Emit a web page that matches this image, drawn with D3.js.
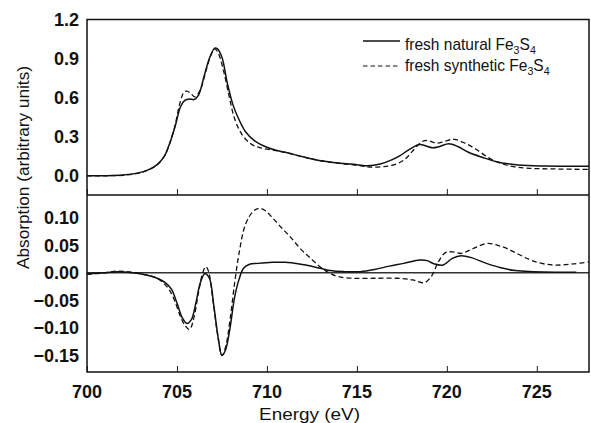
<!DOCTYPE html>
<html>
<head>
<meta charset="utf-8">
<script src="https://cdn.jsdelivr.net/npm/d3@7"></script>
<style>
  body { margin: 0; background: #fff; }
  svg text { font-family: Arial, "Liberation Sans", sans-serif; fill: #111; }
</style>
</head>
<body>
<div class="chart-container"></div>
<script>
// top panel: absorption spectra
const natE = [700, 701, 702, 702.8, 703.4, 703.9, 704.3, 704.6, 704.9, 705.2, 705.45, 705.7, 705.95, 706.2, 706.5, 706.8, 707.1, 707.25, 707.5, 707.8, 708.1, 708.4, 708.8, 709.3, 709.8, 710.5, 711, 712, 713, 714, 715, 715.6, 716.3, 716.9, 717.4, 717.9, 718.5, 719.2, 719.6, 720.1, 720.6, 721.2, 722, 722.7, 723.5, 724.5, 725.5, 727, 728];
const natAbs = [0, 0, 0.005, 0.02, 0.045, 0.085, 0.15, 0.25, 0.38, 0.53, 0.58, 0.59, 0.585, 0.62, 0.76, 0.9, 0.98, 0.975, 0.91, 0.71, 0.55, 0.445, 0.34, 0.27, 0.23, 0.195, 0.18, 0.145, 0.115, 0.097, 0.085, 0.076, 0.09, 0.12, 0.155, 0.2, 0.24, 0.215, 0.225, 0.245, 0.225, 0.18, 0.14, 0.11, 0.09, 0.078, 0.075, 0.073, 0.073];

const synE = [700, 701, 702, 702.8, 703.4, 703.9, 704.3, 704.6, 704.9, 705.15, 705.4, 705.55, 705.75, 706, 706.3, 706.6, 706.9, 707.1, 707.3, 707.6, 707.9, 708.2, 708.6, 709.1, 709.6, 710.2, 711, 712, 713, 714, 715, 715.7, 716.5, 717.2, 717.7, 718.1, 718.6, 718.9, 719.4, 719.9, 720.4, 721, 721.6, 722.3, 722.9, 723.7, 724.6, 726, 728];
const synAbs = [0, 0, 0.003, 0.018, 0.043, 0.085, 0.15, 0.25, 0.39, 0.55, 0.645, 0.65, 0.635, 0.605, 0.66, 0.8, 0.93, 0.975, 0.94, 0.8, 0.61, 0.44, 0.32, 0.245, 0.215, 0.2, 0.18, 0.145, 0.115, 0.095, 0.08, 0.067, 0.07, 0.09, 0.13, 0.19, 0.26, 0.272, 0.25, 0.265, 0.28, 0.25, 0.205, 0.14, 0.1, 0.07, 0.057, 0.052, 0.048];

// bottom panel: difference curves
const natDiffE = [700, 701, 701.7, 702.5, 703.3, 703.9, 704.35, 704.7, 705, 705.3, 705.55, 705.8, 706.05, 706.3, 706.55, 706.8, 707.05, 707.3, 707.5, 707.7, 707.95, 708.2, 708.45, 708.7, 709, 709.5, 710.3, 711, 711.8, 712.6, 713.5, 714.3, 715.2, 716, 716.8, 717.6, 718.5, 718.9, 719.3, 719.8, 720.3, 720.8, 721.4, 722.2, 723, 723.8, 724.8, 726, 727.2];
const natDiff = [-0.002, 0, 0.002, 0, -0.004, -0.01, -0.018, -0.03, -0.055, -0.082, -0.092, -0.085, -0.055, -0.018, -0.002, -0.01, -0.06, -0.12, -0.15, -0.14, -0.1, -0.045, -0.012, 0.008, 0.015, 0.017, 0.019, 0.019, 0.016, 0.011, 0.004, 0.002, 0.002, 0.006, 0.012, 0.017, 0.023, 0.022, 0.016, 0.014, 0.026, 0.031, 0.027, 0.017, 0.009, 0.004, 0.002, 0.001, 0.001];

const synDiffE = [700, 701, 701.7, 702.5, 703.3, 703.9, 704.35, 704.65, 704.9, 705.2, 705.45, 705.7, 705.95, 706.2, 706.45, 706.6, 706.75, 707, 707.25, 707.5, 707.7, 707.95, 708.2, 708.45, 708.8, 709.2, 709.55, 709.9, 710.3, 710.8, 711.3, 711.85, 712.4, 712.95, 713.5, 713.95, 714.8, 716, 717.2, 718.1, 718.75, 719.15, 719.5, 719.9, 720.3, 720.8, 721.4, 722.2, 722.8, 723.4, 724.2, 724.9, 725.9, 727, 728];
const synDiff = [-0.003, 0, 0.003, 0.001, -0.004, -0.01, -0.022, -0.035, -0.053, -0.08, -0.096, -0.103, -0.08, -0.035, 0.002, 0.011, 0.003, -0.05, -0.11, -0.15, -0.135, -0.085, -0.02, 0.035, 0.087, 0.11, 0.117, 0.113, 0.1, 0.082, 0.065, 0.044, 0.027, 0.011, -0.001, -0.007, -0.01, -0.01, -0.01, -0.013, -0.018, -0.006, 0.018, 0.036, 0.038, 0.035, 0.043, 0.053, 0.05, 0.043, 0.03, 0.02, 0.014, 0.016, 0.02];

const xTicks = [700, 705, 710, 715, 720, 725];
const topTicks = [0.0, 0.3, 0.6, 0.9, 1.2];
const bottomTicks = [-0.15, -0.10, -0.05, 0.00, 0.05, 0.10];
const legendLabels = ['fresh natural Fe', 'fresh synthetic Fe'];

const W = 591, H = 423;
const box = { left: 87, right: 589, top: 19.5, mid: 195, bottom: 372 };

const svg = d3.select('.chart-container')
    .append('svg')
    .attr('width', W)
    .attr('height', H);

const x = d3.scaleLinear().domain([700, 727.9]).range([box.left, box.right]);
const yTop = d3.scaleLinear().domain([-0.148, 1.2]).range([box.mid, box.top]);
const yBot = d3.scaleLinear().domain([-0.180, 0.141]).range([box.bottom, box.mid]);

const zip = (xs, ys) => xs.map((e, i) => [e, ys[i]]);

svg.append('clipPath').attr('id', 'plot-clip')
    .append('rect')
    .attr('x', box.left).attr('y', box.top)
    .attr('width', box.right - box.left).attr('height', box.bottom - box.top);

const plot = svg.append('g').attr('clip-path', 'url(#plot-clip)');

// zero line in lower panel
plot.append('line')
    .attr('x1', box.left).attr('x2', box.right)
    .attr('y1', yBot(0)).attr('y2', yBot(0))
    .attr('stroke', '#333').attr('stroke-width', 1.5);

function drawCurve(xs, ys, yScale, dashed) {
    const line = d3.line()
        .x(d => x(d[0]))
        .y(d => yScale(d[1]))
        .curve(d3.curveCatmullRom.alpha(0.5));
    plot.append('path')
        .datum(zip(xs, ys))
        .attr('fill', 'none')
        .attr('stroke', '#111')
        .attr('stroke-width', dashed ? 1.3 : 1.5)
        .attr('stroke-dasharray', dashed ? '5,3' : null)
        .attr('d', line);
}

drawCurve(natE, natAbs, yTop, false);
drawCurve(synE, synAbs, yTop, true);
drawCurve(natDiffE, natDiff, yBot, false);
drawCurve(synDiffE, synDiff, yBot, true);

// x ticks (inward) on both panels
[box.mid, box.bottom].forEach(yy => {
    svg.append('g')
        .attr('transform', `translate(0,${yy})`)
        .call(d3.axisTop(x).tickValues(xTicks).tickSize(6).tickFormat(''))
        .call(g => g.select('.domain').remove())
        .call(g => g.selectAll('line').attr('stroke', '#222').attr('stroke-width', 1));
});

// frames
svg.append('rect')
    .attr('x', box.left).attr('y', box.top)
    .attr('width', box.right - box.left).attr('height', box.bottom - box.top)
    .attr('fill', 'none').attr('stroke', '#111').attr('stroke-width', 1.5);
svg.append('line')
    .attr('x1', box.left).attr('x2', box.right).attr('y1', box.mid).attr('y2', box.mid)
    .attr('stroke', '#111').attr('stroke-width', 1.5);

// tick labels
svg.append('g').selectAll('text')
    .data(topTicks).enter().append('text')
    .attr('x', 79).attr('y', d => yTop(d) + 6.5)
    .attr('text-anchor', 'end')
    .attr('font-size', '18px').attr('font-weight', 'bold')
    .text(d => d3.format('.1f')(d));

svg.append('g').selectAll('text')
    .data(bottomTicks).enter().append('text')
    .attr('x', 79).attr('y', d => yBot(d) + 6.5)
    .attr('text-anchor', 'end')
    .attr('font-size', '18px').attr('font-weight', 'bold')
    .text(d => d3.format('.2f')(d));

svg.append('g').selectAll('text')
    .data(xTicks).enter().append('text')
    .attr('x', d => x(d)).attr('y', 398)
    .attr('text-anchor', 'middle')
    .attr('font-size', '18px').attr('font-weight', 'bold')
    .text(d => d);

// axis titles
svg.append('text')
    .attr('x', 259).attr('y', 420)
    .attr('font-size', '16px')
    .attr('textLength', 101).attr('lengthAdjust', 'spacingAndGlyphs')
    .text('Energy (eV)');

svg.append('text')
    .attr('transform', 'translate(29,269) rotate(-90)')
    .attr('font-size', '16px')
    .attr('textLength', 203).attr('lengthAdjust', 'spacingAndGlyphs')
    .text('Absorption (arbitrary units)');

// legend
const legend = svg.append('g');
legendLabels.forEach((lab, i) => {
    const ly = 50 + i * 21;
    legend.append('line')
        .attr('x1', 363).attr('x2', 400).attr('y1', i ? 66 : 41).attr('y2', i ? 66 : 41)
        .attr('stroke', '#111').attr('stroke-width', i ? 1.1 : 1.5)
        .attr('stroke-dasharray', i ? '4.5,3' : null);
    const t = legend.append('text')
        .attr('transform', `translate(405,${ly}) scale(0.97,1)`)
        .attr('font-size', '16px');
    t.append('tspan').text(lab);
    t.append('tspan').attr('dy', 4).attr('font-size', '11px').text('3');
    t.append('tspan').attr('dy', -4).text('S');
    t.append('tspan').attr('dy', 4).attr('font-size', '11px').text('4');
});
</script>
</body>
</html>
